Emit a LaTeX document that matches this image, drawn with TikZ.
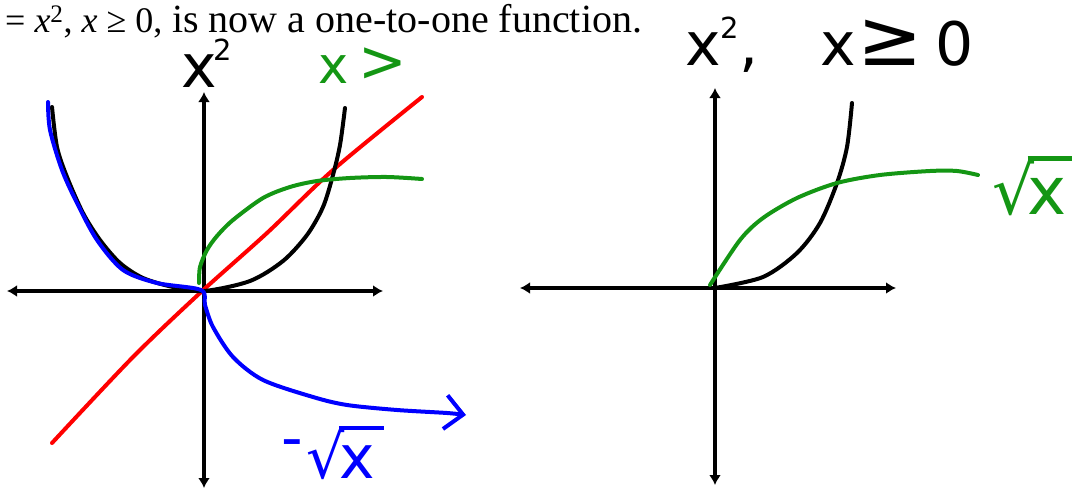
\documentclass[tikz,border=0pt]{standalone}
\usepackage{fontspec}
\setmainfont{Liberation Serif}
\newfontfamily\handfont{DejaVu Sans}
\usetikzlibrary{arrows.meta}

\definecolor{penred}{RGB}{255,0,0}
\definecolor{pengreen}{RGB}{20,150,20}
\definecolor{penblue}{RGB}{0,0,255}

\newcommand{\hsup}[1]{\raisebox{27pt}{\fontsize{29}{29}\selectfont #1}}
\newcommand{\hroot}[1]{√\kern-0.1em\makebox[0pt][l]{\rule[0.8em]{0.75em}{0.075em}}#1}

\begin{document}
\begin{tikzpicture}[
    x=1pt, y=-1pt,
    axis/.style={{Latex[length=10pt,width=12pt]}-{Latex[length=10pt,width=12pt]}, line width=3.2pt},
    pen/.style={line width=4pt, line cap=round, line join=round},
    hand/.style={font=\handfont\fontsize{#1}{#1}\selectfont, inner sep=0pt, anchor=base west},
    hand/.default=60,
    headline/.style={font=\fontsize{40}{44}\selectfont, inner sep=0pt, anchor=base west}
  ]
  \useasboundingbox (0,0) rectangle (1072,490);

  % --- Heading ---
  \node[headline] (heading) at (5,32)
    {{\fontsize{36}{40}\selectfont = \textit{x}\textsuperscript{2}, \textit{x} ≥ 0,} is now a one-to-one function.};

  % --- Left graph: axes ---
  \coordinate (L-west) at (7,291);
  \coordinate (L-east) at (383,291);
  \coordinate (L-north) at (204,92);
  \coordinate (L-south) at (204,488);
  \draw[axis] (L-west) -- (L-east);
  \draw[axis] (L-north) -- (L-south);

  % --- Left graph: curves ---
  \draw[pen, penred] plot[smooth] coordinates
    {(52,443) (133,357) (200,293) (267,233) (333,170) (422,97)};
  \draw[pen, black] plot[smooth] coordinates
    {(52,107) (57,147) (67,177) (83,213) (100,240) (120,263) (143,278) (173,287) (204,291)
     (250,281) (283,261) (307,235) (323,207) (333,175) (340,145) (345,108)};
  \draw[pen, pengreen] plot[smooth] coordinates
    {(199,283) (200,267) (207,250) (217,236) (233,220) (263,198) (290,187) (317,181)
     (350,178) (387,177) (422,179)};
  \draw[pen, penblue, -{Straight Barb[length=18pt,width=34pt]}] plot[smooth] coordinates
    {(48,102) (50,130) (62,170) (77,203) (97,240) (123,270) (157,283) (201,290)
     (205,305) (213,327) (233,357) (263,380) (313,397) (347,405) (397,410) (447,413) (466,415)};

  % --- Left graph: labels ---
  \node[hand] (lbl-square) at (181,87) {x\kern-3pt\hsup{2}};
  \node[hand=51, text=pengreen] (lbl-guess) at (318,83) {x\kern10pt\raisebox{2pt}{\fontsize{58}{58}\selectfont >}};
  \node[hand, text=penblue] (lbl-negroot) at (281,478) {\raisebox{20pt}{-}\kern4pt\hroot{x}};

  % --- Right graph: axes ---
  \coordinate (R-west) at (520,288);
  \coordinate (R-east) at (896,288);
  \coordinate (R-north) at (715,88);
  \coordinate (R-south) at (715,485);
  \draw[axis] (R-west) -- (R-east);
  \draw[axis] (R-north) -- (R-south);

  % --- Right graph: curves ---
  \draw[pen, black] plot[smooth] coordinates
    {(715,288) (763,277) (797,253) (820,223) (837,183) (847,147) (852,103)};
  \draw[pen, pengreen] plot[smooth] coordinates
    {(710,285) (740,240) (763,218) (797,198) (837,183) (880,175) (930,171) (957,171) (978,175)};

  % --- Right graph: labels ---
  \node[hand] (lbl-restrict) at (685,65)
    {x\hsup{2},\hspace{62pt}x\kern2pt{\fontsize{78}{78}\selectfont ≥}\kern12pt0};
  \node[hand=66, text=pengreen] (lbl-root) at (992,214) {\hroot{x}};
\end{tikzpicture}
\end{document}
